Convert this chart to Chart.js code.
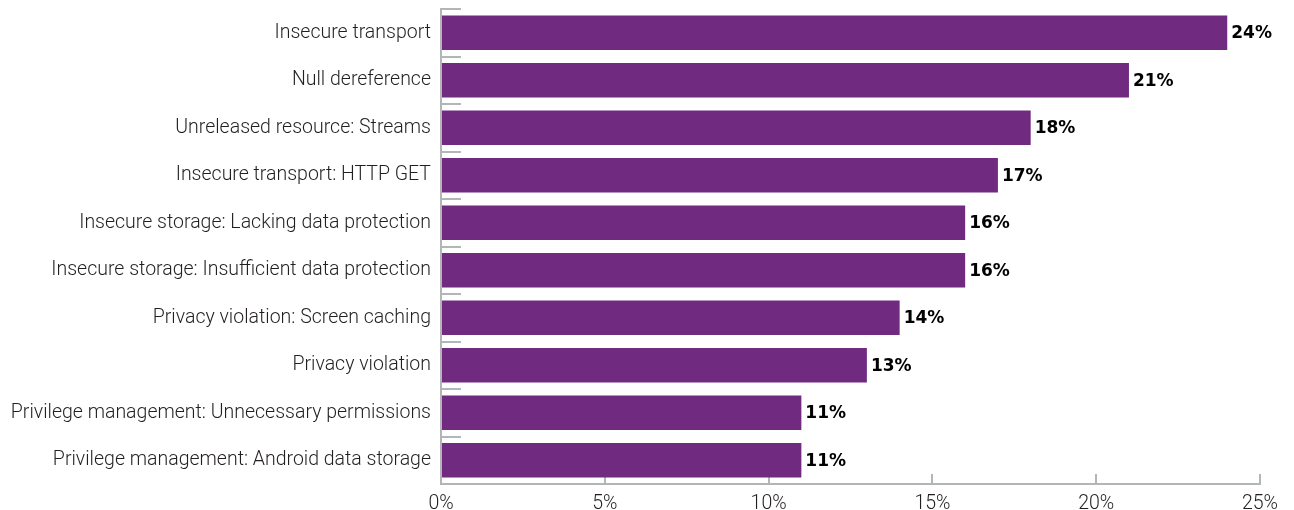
<!DOCTYPE html>
<html>
<head>
<meta charset="utf-8">
<script src="https://cdn.jsdelivr.net/npm/chart.js@4/dist/chart.umd.min.js"></script>
<style>
  html, body { margin: 0; padding: 0; background: #fff; }
  #wrap { width: 1294px; height: 510px; }
</style>
</head>
<body>
<div id="wrap"><canvas id="vulns"></canvas></div>
<script>
const categories = [
  'Insecure transport',
  'Null dereference',
  'Unreleased resource: Streams',
  'Insecure transport: HTTP GET',
  'Insecure storage: Lacking data protection',
  'Insecure storage: Insufficient data protection',
  'Privacy violation: Screen caching',
  'Privacy violation',
  'Privilege management: Unnecessary permissions',
  'Privilege management: Android data storage'
];
const shares = [24, 21, 18, 17, 16, 16, 14, 13, 11, 11];
const xTicks = [0, 5, 10, 15, 20, 25];

const purple = '#702b81';
const axisGrey = '#b3b6b8';
const labelFont = 'Roboto, "Liberation Sans", sans-serif';

// percentage printed just past the end of each bar
const valueLabels = {
  id: 'valueLabels',
  afterDatasetsDraw(chart) {
    const ctx = chart.ctx;
    const meta = chart.getDatasetMeta(0);
    ctx.save();
    ctx.font = 'bold 17px "DejaVu Sans", sans-serif';
    ctx.fillStyle = '#000';
    ctx.textAlign = 'left';
    ctx.textBaseline = 'middle';
    meta.data.forEach((bar, i) => {
      ctx.fillText(shares[i] + '%', bar.x + 4, bar.y + 1);
    });
    ctx.restore();
  }
};

new Chart(document.getElementById('vulns'), {
  type: 'bar',
  data: {
    labels: categories,
    datasets: [{
      data: shares,
      backgroundColor: purple,
      borderWidth: 0,
      categoryPercentage: 1,
      barPercentage: 0.73
    }]
  },
  options: {
    indexAxis: 'y',
    responsive: true,
    maintainAspectRatio: false,
    animation: false,
    layout: { padding: { top: 9, right: 34, left: 0, bottom: 0 } },
    plugins: {
      legend: { display: false },
      tooltip: { enabled: false }
    },
    scales: {
      x: {
        min: 0,
        max: 25,
        afterBuildTicks(scale) {
          scale.ticks = xTicks.map(v => ({ value: v }));
        },
        afterFit(scale) {
          scale.height = 26;
          scale.paddingLeft = 0;
          scale.paddingRight = 0;
        },
        border: { color: axisGrey, width: 2 },
        grid: {
          drawOnChartArea: false,
          drawTicks: true,
          tickLength: -10,
          color: axisGrey,
          lineWidth: 2
        },
        ticks: {
          padding: 18,
          color: '#231f20',
          font: { family: labelFont, size: 19.5, weight: '300' },
          callback: v => v + '%'
        }
      },
      y: {
        afterFit(scale) {
          scale.width = 441;
          scale.paddingTop = 0;
          scale.paddingBottom = 0;
        },
        border: { color: axisGrey, width: 2 },
        grid: {
          offset: true,
          drawOnChartArea: false,
          drawTicks: true,
          tickLength: -20,
          color: axisGrey,
          lineWidth: 2
        },
        ticks: {
          padding: 30,
          color: '#231f20',
          font: { family: labelFont, size: 19.5, weight: '300' }
        }
      }
    }
  },
  plugins: [valueLabels]
});
</script>
</body>
</html>
